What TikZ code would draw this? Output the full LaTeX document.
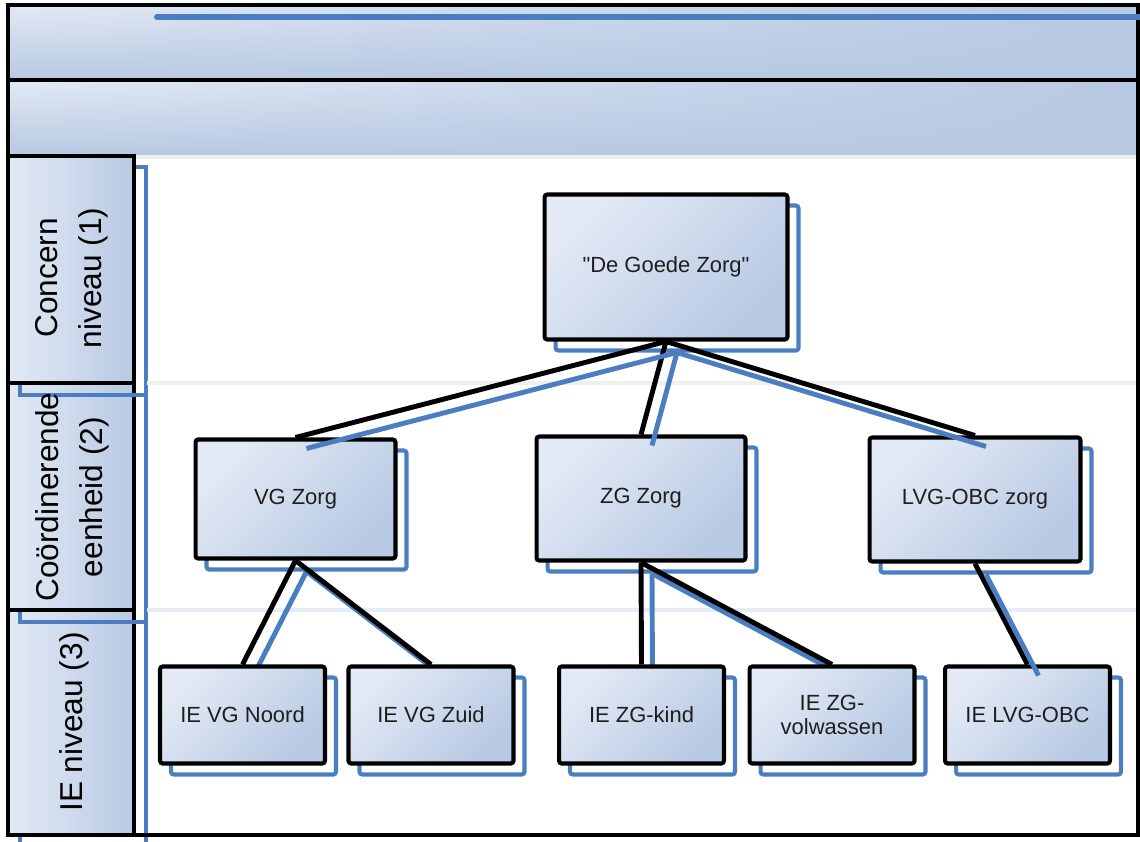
\documentclass[tikz,border=0pt]{standalone}
\usepackage{fontspec}
\setmainfont{Liberation Sans}
\usetikzlibrary{fadings}
\definecolor{BandLight}{RGB}{227,234,245}
\definecolor{BandDark}{RGB}{184,201,227}
\definecolor{ShadowBlue}{RGB}{74,126,193}
\definecolor{SepGray}{RGB}{238,240,234}
\definecolor{SepBlue}{RGB}{230,236,246}
\definecolor{TextGray}{RGB}{30,30,30}
\pgfdeclarelayer{bg}
\pgfdeclarelayer{mid}
\pgfsetlayers{bg,mid,main}

\begin{document}
\begin{tikzpicture}[x=0.02cm,y=-0.02cm,
  org/.style={draw,line width=2.3pt,rounded corners=1.5pt,align=center,
    font=\fontsize{12.5}{14}\selectfont,text=TextGray,
    top color=BandLight,bottom color=BandDark,shading angle=45,
    preaction={draw=ShadowBlue,line width=2.3pt,
      transform canvas={shift={(0.22cm,-0.22cm)}}}},
  ie/.style={minimum width=3.3cm,minimum height=1.94cm},
  link/.style={line width=2.8pt},
  shlink/.style={ShadowBlue,line width=2.8pt},
  band/.style={top color=BandLight,bottom color=BandDark},
  bandfade/.style={BandDark,path fading=west},
  lanebox/.style={draw,line width=2.6pt,left color=BandLight,right color=BandDark},
  laneshadow/.style={draw=ShadowBlue,line width=2.3pt},
  lanetext/.style={rotate=90,align=center,font=\fontsize{18}{25}\selectfont},
  sep/.style={line width=2.2pt}]
  \useasboundingbox (0,0) rectangle (1140,842);

  \begin{pgfonlayer}{bg}
    % header bands
    \fill[band] (8,5) rectangle (1138,80);
    \fill[band] (8,80) rectangle (1138,156);
    \fill[bandfade] (8,5) rectangle (1138,80);
    \fill[bandfade] (8,80) rectangle (1138,156);
    \draw[SepGray,line width=2pt] (134,157) -- (1138,157);
    % lanes, lowest first so the shadows lie on top
    \draw[laneshadow] (20,622) rectangle (146,848);
    \draw[lanebox] (8,610) rectangle (134,835);
    \draw[laneshadow] (20,395) rectangle (146,622);
    \draw[lanebox] (8,383) rectangle (134,610);
    \draw[laneshadow] (20,167) rectangle (146,395);
    \draw[lanebox] (8,156) rectangle (134,383);
    \draw[sep,SepGray] (147,383) -- (1136,383);
    \draw[sep,SepBlue] (147,610) -- (1136,610);
    % frame
    \draw[line width=2.8pt] (8,5) rectangle (1138,835);
    \draw[line width=2.8pt] (8,80) -- (1138,80);
    \draw[ShadowBlue,line width=3.4pt,line cap=round] (157,17) -- (1145,17);
  \end{pgfonlayer}

  \node[lanetext] (lc) at (72,278) {Concern\\niveau (1)};
  \node[lanetext] (lce) at (72,497) {Coördinerende\\eenheid (2)};
  \node[lanetext] (lie) at (74,722) {IE niveau (3)};

  \node[org,minimum width=4.86cm,minimum height=2.9cm] (dgz) at (666,267) {\textquotedbl De Goede Zorg\textquotedbl};
  \node[org,minimum width=4.0cm,minimum height=2.38cm] (vg) at (295.5,499) {VG Zorg};
  \node[org,minimum width=4.18cm,minimum height=2.48cm] (zg) at (641,498.5) {ZG Zorg};
  \node[org,minimum width=4.22cm,minimum height=2.48cm] (lvg) at (975,499.5) {LVG-OBC zorg};

  \node[org,ie] (vgn) at (242.5,715) {IE VG Noord};
  \node[org,ie] (vgz) at (431,715) {IE VG Zuid};
  \node[org,ie] (zgk) at (641.5,715) {IE ZG-kind};
  \node[org,ie] (zgv) at (832,715) {IE ZG-\\volwassen};
  \node[org,ie] (lvgo) at (1027.5,715) {IE LVG-OBC};

  % level 1 to 2
  \draw[link] (dgz.south) -- (vg.north);
  \draw[link] (dgz.south) -- (zg.north);
  \draw[link] (dgz.south) -- (lvg.north);
  \draw[shlink] ([shift={(11,11)}]dgz.south) -- ([shift={(11,11)}]vg.north);
  \draw[shlink] ([shift={(11,11)}]dgz.south) -- ([shift={(11,11)}]zg.north);
  \draw[shlink] ([shift={(11,11)}]dgz.south) -- ([shift={(11,11)}]lvg.north);

  % level 2 to 3
  \begin{pgfonlayer}{mid}
    \draw[shlink] ([shift={(11,11)}]vg.south) -- ([shift={(11,11)}]vgn.north);
    \draw[shlink] ([shift={(11,11)}]vg.south) -- ([shift={(11,11)}]vgz.north);
    \draw[shlink] ([shift={(11,11)}]zg.south) -- ([shift={(11,11)}]zgk.north);
    \draw[shlink] ([shift={(11,11)}]zg.south) -- ([shift={(11,11)}]zgv.north);
  \end{pgfonlayer}
  \draw[link] (vg.south) -- (vgn.north);
  \draw[link] (vg.south) -- (vgz.north);
  \draw[link] (zg.south) -- (zgk.north);
  \draw[link] (zg.south) -- (zgv.north);
  \draw[link] (lvg.south) -- (lvgo.north);
  \draw[shlink] ([shift={(11,11)}]lvg.south) -- ([shift={(11,11)}]lvgo.north);
\end{tikzpicture}
\end{document}
